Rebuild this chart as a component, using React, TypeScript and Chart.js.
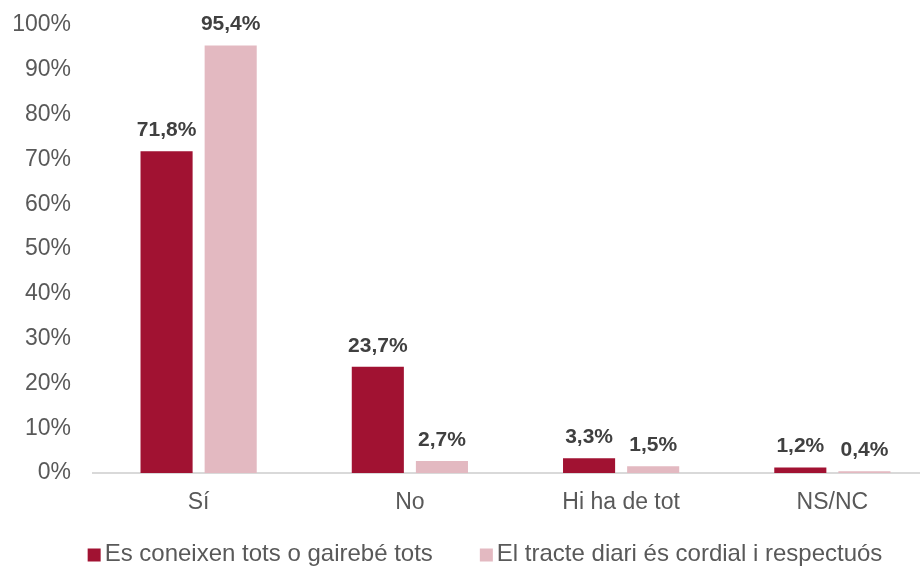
import React, { useEffect, useRef } from "react";
import { Chart, registerables } from "chart.js";

Chart.register(...registerables);

const categories = ["Sí", "No", "Hi ha de tot", "NS/NC"];
const seriesLabels = ["Es coneixen tots o gairebé tots", "El tracte diari és cordial i respectuós"];
const seriesA = [71.8, 23.7, 3.3, 1.2];
const seriesB = [95.4, 2.7, 1.5, 0.4];
const colors = ["#A11232", "#E3B9C1"];
const yTicks = [0, 10, 20, 30, 40, 50, 60, 70, 80, 90, 100];

const FONT = "'Liberation Sans', Arial, sans-serif";

const fmt = (v: number) => v.toFixed(1).replace(".", ",") + "%";

const dataLabelPlugin = {
  id: "dataLabels",
  afterDatasetsDraw(chart: any) {
    const ctx = chart.ctx;
    ctx.save();
    ctx.font = `bold 21px ${FONT}`;
    ctx.fillStyle = "#404040";
    ctx.textAlign = "center";
    ctx.textBaseline = "middle";
    chart.data.datasets.forEach((ds: any, i: number) => {
      const meta = chart.getDatasetMeta(i);
      meta.data.forEach((el: any, j: number) => {
        ctx.fillText(fmt(ds.data[j]), el.x, el.y - 21);
      });
    });
    ctx.restore();
  },
};

const legendPlugin = {
  id: "customLegend",
  afterDraw(chart: any) {
    const ctx = chart.ctx;
    ctx.save();
    ctx.font = `24px ${FONT}`;
    ctx.textBaseline = "middle";
    ctx.textAlign = "left";
    const box = 13;
    const gapBoxText = 4;
    const gapItems = 47;
    const items = chart.data.datasets.map((ds: any) => ({
      label: ds.label,
      color: ds.backgroundColor,
      w: ctx.measureText(ds.label).width,
    }));
    let total = 0;
    items.forEach((it: any, i: number) => {
      total += box + gapBoxText + it.w + (i < items.length - 1 ? gapItems : 0);
    });
    let x = 485 - total / 2;
    const yc = 555;
    items.forEach((it: any) => {
      ctx.fillStyle = it.color;
      ctx.fillRect(x, yc - box / 2, box, box);
      x += box + gapBoxText;
      ctx.fillStyle = "#595959";
      ctx.fillText(it.label, x, yc - 1);
      x += it.w + gapItems;
    });
    ctx.restore();
  },
};

export default function App() {
  const ref = useRef<HTMLCanvasElement | null>(null);
  useEffect(() => {
    if (!ref.current) return;
    const chart = new Chart(ref.current, {
      type: "bar",
      data: {
        labels: categories,
        datasets: [
          {
            label: seriesLabels[0],
            data: seriesA,
            backgroundColor: colors[0],
            categoryPercentage: 0.607,
            barPercentage: 0.8125,
          },
          {
            label: seriesLabels[1],
            data: seriesB,
            backgroundColor: colors[1],
            categoryPercentage: 0.607,
            barPercentage: 0.8125,
          },
        ],
      },
      options: {
        responsive: false,
        animation: false,
        devicePixelRatio: 1,
        layout: { padding: { top: 25, right: 7, left: 0, bottom: 0 } },
        plugins: {
          legend: { display: false },
          tooltip: { enabled: false },
        },
        scales: {
          x: {
            grid: { display: false, drawTicks: false },
            border: { display: true, color: "#D9D9D9", width: 2 },
            ticks: {
              color: "#595959",
              font: { family: FONT, size: 23 },
              padding: 16,
              maxRotation: 0,
            },
            afterFit(scale: any) {
              scale.height = 93;
            },
          },
          y: {
            min: 0,
            max: 100,
            afterBuildTicks(scale: any) {
              scale.ticks = yTicks.map((v) => ({ value: v }));
            },
            grid: { display: false, drawTicks: false },
            border: { display: false },
            ticks: {
              color: "#595959",
              font: { family: FONT, size: 23 },
              padding: 22,
              callback: (v: any) => v + "%",
            },
            afterFit(scale: any) {
              scale.width = 93;
              scale.paddingTop = 0;
              scale.paddingBottom = 0;
            },
          },
        },
      },
      plugins: [dataLabelPlugin, legendPlugin],
    });
    return () => chart.destroy();
  }, []);

  return (
    <div
      style={{
        position: "absolute",
        left: 0,
        top: 0,
        width: 920,
        height: 566,
        overflow: "hidden",
        background: "#fff",
      }}
    >
      <canvas ref={ref} width={945} height={566} style={{ display: "block", width: 945, height: 566 }} />
    </div>
  );
}
